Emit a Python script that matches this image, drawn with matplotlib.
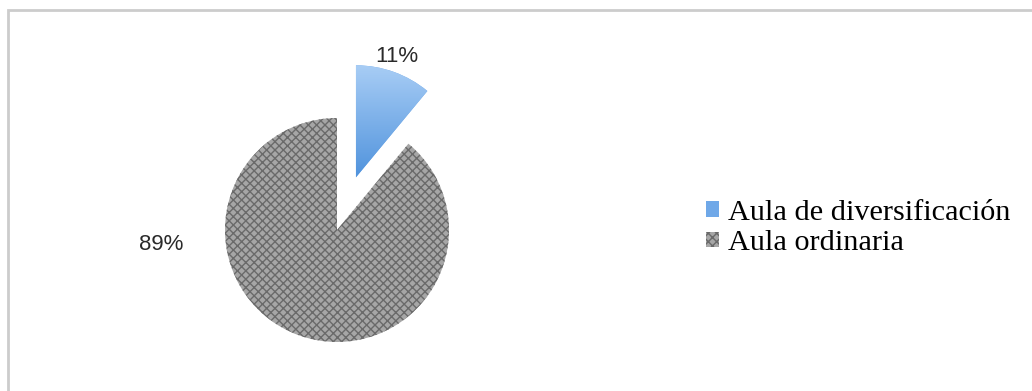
import matplotlib.pyplot as plt
import numpy as np
from matplotlib.patches import Rectangle

# datos
categorias = ["Aula de diversificación", "Aula ordinaria"]
valores = [11, 89]
colores = ["#6fa8e8", "#a6a6a6"]

fig = plt.figure(figsize=(10.32, 3.91), dpi=100)
ax = fig.add_axes([0, 0, 1, 1])

# escala: 112 px por unidad, centro en (337, 161) px
ppu = 112.0
cx, cy = 337.0, 161.0

wedges, _ = ax.pie(valores, colors=colores, startangle=90, counterclock=False,
                   explode=[0.5, 0], radius=1.0, center=(0, 0), frame=True,
                   wedgeprops=dict(linewidth=0))
ax.set_xlim(-cx / ppu, (1032 - cx) / ppu)
ax.set_ylim(-cy / ppu, (391 - cy) / ppu)
ax.set_aspect("auto")
ax.axis("off")

# degradado azul en la porcion pequeña
w = wedges[0]
grad = np.linspace(0, 1, 256).reshape(-1, 1)
cmap = plt.matplotlib.colors.LinearSegmentedColormap.from_list("az", ["#4a8fdb", "#abcff6"])
im = ax.imshow(grad, cmap=cmap, origin="lower", aspect="auto",
               extent=[0, 1.3, 0.4, 1.5], zorder=w.get_zorder() + 0.1)
im.set_clip_path(w)

# textura gris
g = wedges[1]
g.set_hatch("xxxx")
g.set_edgecolor("#6a6a6a")
g.set_linewidth(0)

# etiquetas de porcentaje
total = sum(valores)
pct = [f"{v / total * 100:.0f}%" for v in valores]
ax.text((397 - cx) / ppu, (391 - 57 - cy) / ppu, pct[0], ha="center", va="center",
        fontsize=16, family="Liberation Sans", color="#2a2a2a")
ax.text((161 - cx) / ppu, (391 - 245 - cy) / ppu, pct[1], ha="center", va="center",
        fontsize=16, family="Liberation Sans", color="#2a2a2a")

# leyenda
leg = fig.legend(wedges, categorias, loc="center left", bbox_to_anchor=(691 / 1032, 1 - 228 / 391),
                 frameon=False, prop=dict(family="Liberation Serif", size=21.8),
                 handlelength=0.42, handleheight=0.42, handletextpad=0.3,
                 labelspacing=0.15, borderpad=0)

# borde
fig.patches.append(Rectangle((8 / 1032, -0.1), 1.2, (391 - 10) / 391 + 0.1,
                             transform=fig.transFigure, fill=False,
                             edgecolor="#cccccc", linewidth=2))

fig.savefig("out.png", dpi=100)
